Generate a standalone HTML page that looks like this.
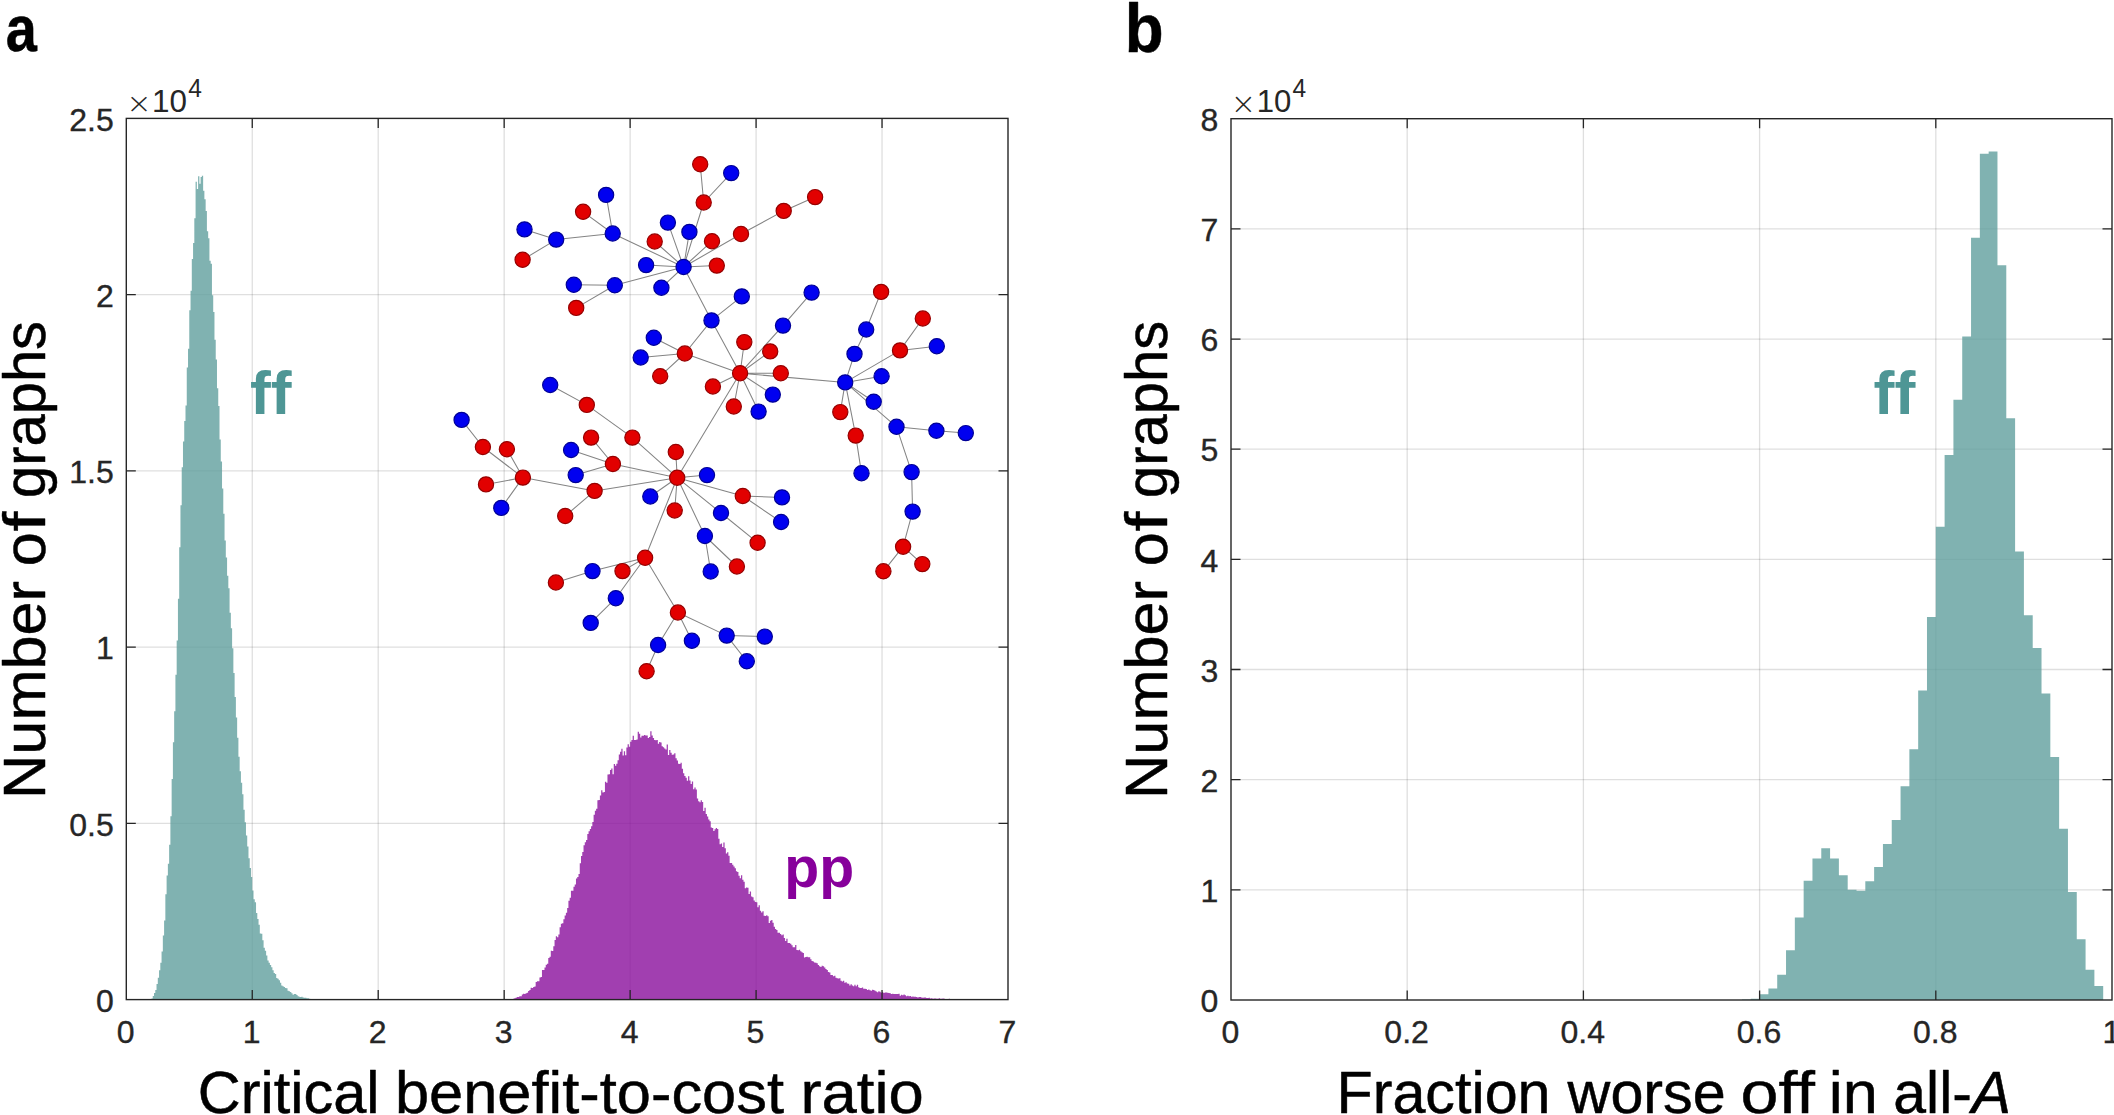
<!DOCTYPE html>
<html><head><meta charset="utf-8"><title>Figure</title>
<style>html,body{margin:0;padding:0;background:#fff;overflow:hidden}svg{display:block}</style>
</head><body>
<svg width="2114" height="1115" viewBox="0 0 2114 1115">
<rect width="2114" height="1115" fill="#fff"/>
<g stroke="#262626" stroke-opacity="0.15" stroke-width="1.3" fill="none"><path d="M252.26 118.4V999.6"/><path d="M378.21 118.4V999.6"/><path d="M504.17 118.4V999.6"/><path d="M630.13 118.4V999.6"/><path d="M756.09 118.4V999.6"/><path d="M882.04 118.4V999.6"/><path d="M126.3 823.36H1008.0"/><path d="M126.3 647.12H1008.0"/><path d="M126.3 470.88H1008.0"/><path d="M126.3 294.64H1008.0"/><path d="M1407.20 118.7V1000.0"/><path d="M1583.40 118.7V1000.0"/><path d="M1759.60 118.7V1000.0"/><path d="M1935.80 118.7V1000.0"/><path d="M1231.0 889.84H2112.0"/><path d="M1231.0 779.67H2112.0"/><path d="M1231.0 669.51H2112.0"/><path d="M1231.0 559.35H2112.0"/><path d="M1231.0 449.19H2112.0"/><path d="M1231.0 339.03H2112.0"/><path d="M1231.0 228.86H2112.0"/></g>
<path d="M148.97 999.6V999.60H150.23V999.56H151.49V998.40H152.75V996.02H154.01V993.10H155.27V989.89H156.53V983.98H157.79V977.72H159.05V970.32H160.31V962.81H161.57V951.47H162.83V935.40H164.09V920.61H165.35V894.37H166.61V875.56H167.87V863.65H169.13V844.71H170.39V816.36H171.64V778.97H172.90V742.13H174.16V711.14H175.42V674.68H176.68V640.39H177.94V598.71H179.20V547.37H180.46V505.21H181.72V467.34H182.98V441.56H184.24V420.96H185.50V405.49H186.76V367.43H188.02V348.81H189.28V310.27H190.54V290.80H191.80V258.92H193.06V242.89H194.32V218.37H195.58V181.70H196.84V188.98H198.10V176.33H199.36V183.80H200.61V176.91H201.87V175.65H203.13V190.86H204.39V199.18H205.65V210.99H206.91V231.24H208.17V238.13H209.43V260.82H210.69V263.81H211.95V295.32H213.21V311.97H214.47V339.65H215.73V359.51H216.99V388.29H218.25V406.06H219.51V439.39H220.77V461.60H222.03V488.43H223.29V513.68H224.55V540.61H225.81V557.47H227.07V575.65H228.33V588.23H229.58V612.80H230.84V628.31H232.10V648.25H233.36V672.93H234.62V697.06H235.88V717.61H237.14V737.83H238.40V756.81H239.66V771.31H240.92V782.63H242.18V794.31H243.44V809.68H244.70V822.13H245.96V835.43H247.22V846.38H248.48V858.27H249.74V867.99H251.00V877.04H252.26V890.50H253.52V899.27H254.78V902.26H256.04V912.90H257.30V918.89H258.55V924.72H259.81V933.51H261.07V933.66H262.33V940.26H263.59V947.74H264.85V950.84H266.11V955.50H267.37V960.55H268.63V962.64H269.89V965.04H271.15V967.22H272.41V970.17H273.67V973.01H274.93V973.99H276.19V978.10H277.45V978.85H278.71V980.13H279.97V982.77H281.23V985.38H282.49V986.21H283.75V986.93H285.01V987.94H286.27V988.34H287.53V990.86H288.78V991.29H290.04V991.97H291.30V993.33H292.56V994.87H293.82V994.00H295.08V993.95H296.34V995.06H297.60V996.31H298.86V996.67H300.12V997.01H301.38V996.80H302.64V997.53H303.90V997.87H305.16V997.75H306.42V998.33H307.68V998.16H308.94V998.85H310.20V999.01H311.46V998.94H312.72V998.92H313.98V999.09H315.24V999.20H316.50V999.49H317.75V999.43H319.01V999.48H320.27V999.53H321.53V999.53H322.79V999.60H324.05V999.60H325.31V999.60H326.57V999.60H327.83V999.60H329.09V999.60H330.35V999.60H331.61V999.60H332.87V999.60H334.13V999.60H335.39V999.60H336.65V999.60H337.91V999.60H339.17V999.60H340.43V999.6Z" fill="rgb(96,159,158)" fill-opacity="0.8"/>
<path d="M504.17 999.6V999.60H505.43V999.60H506.69V999.60H507.95V999.60H509.21V999.58H510.47V999.40H511.73V999.14H512.99V998.75H514.25V998.19H515.51V997.64H516.77V997.04H518.03V996.96H519.29V996.37H520.55V996.18H521.81V994.41H523.07V993.82H524.32V993.90H525.58V993.36H526.84V992.76H528.10V991.02H529.36V989.99H530.62V987.77H531.88V987.93H533.14V986.97H534.40V986.56H535.66V982.07H536.92V981.34H538.18V981.19H539.44V977.57H540.70V977.01H541.96V969.97H543.22V970.00H544.48V967.45H545.74V964.86H547.00V963.76H548.26V958.11H549.52V956.64H550.78V950.64H552.04V951.03H553.29V946.20H554.55V940.05H555.81V936.23H557.07V937.27H558.33V934.57H559.59V927.31H560.85V923.80H562.11V923.31H563.37V919.28H564.63V915.55H565.89V912.70H567.15V908.07H568.41V900.74H569.67V897.63H570.93V890.86H572.19V890.86H573.45V886.84H574.71V884.45H575.97V878.59H577.23V876.98H578.49V873.90H579.75V863.28H581.01V856.10H582.26V851.90H583.52V845.22H584.78V842.19H586.04V840.01H587.30V834.05H588.56V831.13H589.82V828.92H591.08V826.36H592.34V822.02H593.60V814.73H594.86V810.78H596.12V808.85H597.38V800.31H598.64V800.04H599.90V795.50H601.16V790.32H602.42V792.38H603.68V792.09H604.94V781.66H606.20V782.82H607.46V774.43H608.72V774.32H609.98V769.90H611.24V768.39H612.49V774.30H613.75V764.11H615.01V765.87H616.27V763.69H617.53V760.35H618.79V754.41H620.05V751.63H621.31V748.82H622.57V755.43H623.83V751.14H625.09V755.32H626.35V747.43H627.61V744.21H628.87V746.75H630.13V741.86H631.39V740.03H632.65V735.81H633.91V739.97H635.17V739.90H636.43V739.61H637.69V731.87H638.95V733.78H640.21V737.38H641.46V735.83H642.72V735.66H643.98V734.88H645.24V735.62H646.50V735.49H647.76V737.92H649.02V737.09H650.28V731.16H651.54V735.61H652.80V738.10H654.06V740.00H655.32V740.16H656.58V740.02H657.84V743.77H659.10V741.98H660.36V742.59H661.62V746.30H662.88V747.18H664.14V748.57H665.40V749.53H666.66V744.48H667.92V754.92H669.18V749.99H670.43V752.87H671.69V754.75H672.95V754.51H674.21V753.34H675.47V758.19H676.73V760.58H677.99V763.71H679.25V764.08H680.51V762.86H681.77V768.84H683.03V773.27H684.29V775.89H685.55V777.73H686.81V780.81H688.07V776.16H689.33V780.42H690.59V784.08H691.85V781.45H693.11V789.29H694.37V787.47H695.63V789.47H696.89V798.54H698.15V801.28H699.40V802.32H700.66V800.22H701.92V801.96H703.18V811.12H704.44V807.74H705.70V813.95H706.96V816.49H708.22V819.40H709.48V821.34H710.74V827.57H712.00V828.01H713.26V831.07H714.52V829.34H715.78V827.98H717.04V828.95H718.30V838.65H719.56V844.25H720.82V843.46H722.08V847.03H723.34V842.57H724.60V848.18H725.86V853.60H727.12V852.29H728.38V855.68H729.63V862.96H730.89V863.00H732.15V864.82H733.41V866.55H734.67V868.27H735.93V871.23H737.19V872.07H738.45V875.66H739.71V878.25H740.97V875.21H742.23V879.79H743.49V881.85H744.75V888.14H746.01V887.47H747.27V887.73H748.53V894.07H749.79V891.60H751.05V896.61H752.31V897.25H753.57V900.41H754.83V901.90H756.09V902.25H757.35V907.23H758.60V905.16H759.86V910.83H761.12V912.55H762.38V911.13H763.64V915.69H764.90V915.95H766.16V915.23H767.42V916.26H768.68V922.89H769.94V920.69H771.20V920.05H772.46V922.81H773.72V926.74H774.98V928.92H776.24V930.04H777.50V932.77H778.76V932.71H780.02V933.91H781.28V935.17H782.54V934.51H783.80V937.94H785.06V941.05H786.32V938.72H787.57V942.88H788.83V943.08H790.09V943.74H791.35V945.13H792.61V947.14H793.87V947.20H795.13V945.02H796.39V949.88H797.65V950.35H798.91V949.81H800.17V951.29H801.43V952.22H802.69V953.06H803.95V957.56H805.21V957.11H806.47V956.83H807.73V957.33H808.99V957.33H810.25V959.27H811.51V961.05H812.77V961.57H814.03V962.62H815.29V962.86H816.55V963.14H817.80V965.03H819.06V966.30H820.32V967.09H821.58V965.75H822.84V966.32H824.10V967.62H825.36V968.92H826.62V970.09H827.88V972.06H829.14V972.38H830.40V974.88H831.66V974.92H832.92V976.26H834.18V975.78H835.44V977.80H836.70V978.24H837.96V978.54H839.22V978.34H840.48V980.74H841.74V981.45H843.00V980.63H844.26V982.76H845.52V982.14H846.77V983.51H848.03V983.68H849.29V985.48H850.55V984.15H851.81V985.55H853.07V986.36H854.33V984.84H855.59V986.28H856.85V984.75H858.11V987.14H859.37V987.96H860.63V987.99H861.89V987.38H863.15V988.73H864.41V988.75H865.67V988.92H866.93V989.99H868.19V989.58H869.45V990.16H870.71V990.79H871.97V989.78H873.23V990.12H874.49V990.67H875.75V991.44H877.00V992.26H878.26V991.13H879.52V991.66H880.78V992.72H882.04V992.09H883.30V993.03H884.56V992.47H885.82V992.58H887.08V992.68H888.34V992.94H889.60V993.16H890.86V993.97H892.12V993.80H893.38V994.04H894.64V994.09H895.90V994.05H897.16V994.08H898.42V993.84H899.68V995.78H900.94V994.74H902.20V995.18H903.46V994.41H904.72V995.14H905.97V996.30H907.23V995.74H908.49V996.26H909.75V995.91H911.01V996.73H912.27V996.53H913.53V996.67H914.79V996.78H916.05V997.06H917.31V997.56H918.57V996.99H919.83V996.97H921.09V997.40H922.35V997.78H923.61V997.58H924.87V997.62H926.13V997.93H927.39V998.01H928.65V997.75H929.91V998.40H931.17V998.34H932.43V998.70H933.69V998.51H934.94V998.58H936.20V998.69H937.46V998.69H938.72V998.28H939.98V998.70H941.24V998.75H942.50V998.41H943.76V998.85H945.02V999.17H946.28V998.89H947.54V999.14H948.80V998.84H950.06V999.28H951.32V999.24H952.58V999.41H953.84V999.27H955.10V999.43H956.36V999.37H957.62V999.43H958.88V999.48H960.14V999.40H961.40V999.45H962.66V999.53H963.91V999.60H965.17V999.60H966.43V999.60H967.69V999.60H968.95V999.60H970.21V999.60H971.47V999.60H972.73V999.60H973.99V999.60H975.25V999.60H976.51V999.60H977.77V999.60H979.03V999.60H980.29V999.60H981.55V999.60H982.81V999.60H984.07V999.60H985.33V999.60H986.59V999.60H987.85V999.60H989.11V999.60H990.37V999.60H991.63V999.60H992.89V999.60H994.14V999.60H995.40V999.60H996.66V999.60H997.92V999.60H999.18V999.60H1000.44V999.6Z" fill="rgb(138,15,156)" fill-opacity="0.8"/>
<path d="M1741.98 1000.0L1741.98 999.56L1750.79 999.56L1750.79 998.68L1759.60 998.68L1759.60 994.16L1768.41 994.16L1768.41 988.43L1777.22 988.43L1777.22 974.77L1786.03 974.77L1786.03 950.32L1794.84 950.32L1794.84 917.49L1803.65 917.49L1803.65 880.80L1812.46 880.80L1812.46 858.55L1821.27 858.55L1821.27 848.20L1830.08 848.20L1830.08 858.55L1838.89 858.55L1838.89 875.19L1847.70 875.19L1847.70 889.73L1856.51 889.73L1856.51 890.83L1865.32 890.83L1865.32 881.35L1874.13 881.35L1874.13 866.92L1882.94 866.92L1882.94 844.01L1891.75 844.01L1891.75 820.10L1900.56 820.10L1900.56 786.17L1909.37 786.17L1909.37 749.16L1918.18 749.16L1918.18 690.55L1926.99 690.55L1926.99 616.96L1935.80 616.96L1935.80 526.74L1944.61 526.74L1944.61 455.03L1953.42 455.03L1953.42 399.83L1962.23 399.83L1962.23 336.60L1971.04 336.60L1971.04 237.68L1979.85 237.68L1979.85 153.73L1988.66 153.73L1988.66 151.53L1997.47 151.53L1997.47 265.33L2006.28 265.33L2006.28 418.23L2015.09 418.23L2015.09 551.53L2023.90 551.53L2023.90 615.31L2032.71 615.31L2032.71 648.03L2041.52 648.03L2041.52 693.42L2050.33 693.42L2050.33 756.98L2059.14 756.98L2059.14 828.81L2067.95 828.81L2067.95 891.93L2076.76 891.93L2076.76 939.19L2085.57 939.19L2085.57 969.71L2094.38 969.71L2094.38 985.90L2103.19 985.90L2103.19 1000.0Z" fill="rgb(96,159,158)" fill-opacity="0.8"/>
<path d="M700.2 164.2L703.7 202.5M731.2 173.1L703.7 202.5M703.7 202.5L683.6 267.0M689.4 231.9L683.6 267.0M667.9 222.6L683.6 267.0M654.7 241.5L683.6 267.0M712.0 241.2L683.6 267.0M741.0 234.0L683.6 267.0M741.0 234.0L783.7 210.9M783.7 210.9L815.1 197.1M646.1 265.1L683.6 267.0M716.8 265.6L683.6 267.0M612.7 233.5L683.6 267.0M612.7 233.5L606.1 194.9M612.7 233.5L583.1 211.8M612.7 233.5L556.2 239.6M556.2 239.6L524.5 229.4M556.2 239.6L522.6 259.8M614.8 285.3L683.6 267.0M614.8 285.3L573.8 284.8M614.8 285.3L576.2 307.9M661.4 287.7L683.6 267.0M683.6 267.0L711.5 320.4M711.5 320.4L741.8 296.4M783.0 325.6L811.6 292.6M711.5 320.4L684.8 353.5M711.5 320.4L740.1 373.2M684.8 353.5L653.8 337.8M684.8 353.5L640.7 357.5M684.8 353.5L660.2 376.2M684.8 353.5L740.1 373.2M740.1 373.2L744.3 342.1M740.1 373.2L770.2 351.4M740.1 373.2L783.0 325.6M740.1 373.2L780.8 373.2M740.1 373.2L845.2 382.4M740.1 373.2L712.9 386.5M740.1 373.2L733.8 406.5M740.1 373.2L758.6 411.6M740.1 373.2L772.8 394.6M740.1 373.2L677.2 477.7M845.2 382.4L854.5 353.9M854.5 353.9L866.2 329.5M866.2 329.5L881.1 291.9M845.2 382.4L900.0 350.4M900.0 350.4L922.8 318.5M900.0 350.4L936.8 346.2M845.2 382.4L881.6 376.3M845.2 382.4L873.7 401.7M845.2 382.4L896.5 426.8M845.2 382.4L840.3 412.1M845.2 382.4L855.7 435.6M896.5 426.8L936.4 430.7M936.4 430.7L965.8 433.1M896.5 426.8L911.6 472.1M855.7 435.6L861.5 473.2M911.6 472.1L912.6 511.6M912.6 511.6L903.1 546.7M903.1 546.7L922.3 564.1M903.1 546.7L883.4 571.3M550.2 385.0L586.8 404.9M586.8 404.9L632.4 437.6M632.4 437.6L677.2 477.7M461.6 419.9L482.9 447.0M482.9 447.0L522.9 477.6M506.9 449.2L522.9 477.6M522.9 477.6L486.0 484.4M522.9 477.6L501.3 507.9M522.9 477.6L594.6 490.9M594.6 490.9L677.2 477.7M594.6 490.9L565.2 516.0M591.1 437.6L612.9 464.0M571.1 450.0L612.9 464.0M575.7 475.1L612.9 464.0M612.9 464.0L677.2 477.7M675.8 452.0L677.2 477.7M707.0 475.1L677.2 477.7M650.3 496.5L677.2 477.7M674.7 510.5L677.2 477.7M677.2 477.7L645.1 557.8M677.2 477.7L704.9 536.0M677.2 477.7L721.0 513.0M677.2 477.7L742.8 496.0M742.8 496.0L782.0 497.4M742.8 496.0L781.1 522.0M721.0 513.0L757.6 542.7M645.1 557.8L592.5 571.1M645.1 557.8L622.5 571.1M592.5 571.1L555.9 582.5M645.1 557.8L615.8 598.2M615.8 598.2L590.7 622.9M645.1 557.8L677.9 612.5M677.9 612.5L658.1 645.0M658.1 645.0L646.6 671.2M677.9 612.5L691.9 640.8M677.9 612.5L726.7 635.6M726.7 635.6L764.8 636.6M726.7 635.6L746.8 661.3M704.9 536.0L710.7 571.5M704.9 536.0L736.9 566.5" stroke="rgb(132,132,132)" stroke-width="1.05" fill="none"/>
<circle cx="700.2" cy="164.2" r="7.6" fill="rgb(226,0,0)" stroke="rgb(150,0,0)" stroke-width="1.2"/>
<circle cx="731.2" cy="173.1" r="7.6" fill="rgb(0,0,240)" stroke="rgb(0,0,150)" stroke-width="1.2"/>
<circle cx="703.7" cy="202.5" r="7.6" fill="rgb(226,0,0)" stroke="rgb(150,0,0)" stroke-width="1.2"/>
<circle cx="815.1" cy="197.1" r="7.6" fill="rgb(226,0,0)" stroke="rgb(150,0,0)" stroke-width="1.2"/>
<circle cx="783.7" cy="210.9" r="7.6" fill="rgb(226,0,0)" stroke="rgb(150,0,0)" stroke-width="1.2"/>
<circle cx="606.1" cy="194.9" r="7.6" fill="rgb(0,0,240)" stroke="rgb(0,0,150)" stroke-width="1.2"/>
<circle cx="583.1" cy="211.8" r="7.6" fill="rgb(226,0,0)" stroke="rgb(150,0,0)" stroke-width="1.2"/>
<circle cx="612.7" cy="233.5" r="7.6" fill="rgb(0,0,240)" stroke="rgb(0,0,150)" stroke-width="1.2"/>
<circle cx="524.5" cy="229.4" r="7.6" fill="rgb(0,0,240)" stroke="rgb(0,0,150)" stroke-width="1.2"/>
<circle cx="556.2" cy="239.6" r="7.6" fill="rgb(0,0,240)" stroke="rgb(0,0,150)" stroke-width="1.2"/>
<circle cx="522.6" cy="259.8" r="7.6" fill="rgb(226,0,0)" stroke="rgb(150,0,0)" stroke-width="1.2"/>
<circle cx="667.9" cy="222.6" r="7.6" fill="rgb(0,0,240)" stroke="rgb(0,0,150)" stroke-width="1.2"/>
<circle cx="689.4" cy="231.9" r="7.6" fill="rgb(0,0,240)" stroke="rgb(0,0,150)" stroke-width="1.2"/>
<circle cx="654.7" cy="241.5" r="7.6" fill="rgb(226,0,0)" stroke="rgb(150,0,0)" stroke-width="1.2"/>
<circle cx="712.0" cy="241.2" r="7.6" fill="rgb(226,0,0)" stroke="rgb(150,0,0)" stroke-width="1.2"/>
<circle cx="741.0" cy="234.0" r="7.6" fill="rgb(226,0,0)" stroke="rgb(150,0,0)" stroke-width="1.2"/>
<circle cx="646.1" cy="265.1" r="7.6" fill="rgb(0,0,240)" stroke="rgb(0,0,150)" stroke-width="1.2"/>
<circle cx="683.6" cy="267.0" r="7.6" fill="rgb(0,0,240)" stroke="rgb(0,0,150)" stroke-width="1.2"/>
<circle cx="716.8" cy="265.6" r="7.6" fill="rgb(226,0,0)" stroke="rgb(150,0,0)" stroke-width="1.2"/>
<circle cx="573.8" cy="284.8" r="7.6" fill="rgb(0,0,240)" stroke="rgb(0,0,150)" stroke-width="1.2"/>
<circle cx="614.8" cy="285.3" r="7.6" fill="rgb(0,0,240)" stroke="rgb(0,0,150)" stroke-width="1.2"/>
<circle cx="661.4" cy="287.7" r="7.6" fill="rgb(0,0,240)" stroke="rgb(0,0,150)" stroke-width="1.2"/>
<circle cx="576.2" cy="307.9" r="7.6" fill="rgb(226,0,0)" stroke="rgb(150,0,0)" stroke-width="1.2"/>
<circle cx="741.8" cy="296.4" r="7.6" fill="rgb(0,0,240)" stroke="rgb(0,0,150)" stroke-width="1.2"/>
<circle cx="811.6" cy="292.6" r="7.6" fill="rgb(0,0,240)" stroke="rgb(0,0,150)" stroke-width="1.2"/>
<circle cx="711.5" cy="320.4" r="7.6" fill="rgb(0,0,240)" stroke="rgb(0,0,150)" stroke-width="1.2"/>
<circle cx="783.0" cy="325.6" r="7.6" fill="rgb(0,0,240)" stroke="rgb(0,0,150)" stroke-width="1.2"/>
<circle cx="881.1" cy="291.9" r="7.6" fill="rgb(226,0,0)" stroke="rgb(150,0,0)" stroke-width="1.2"/>
<circle cx="922.8" cy="318.5" r="7.6" fill="rgb(226,0,0)" stroke="rgb(150,0,0)" stroke-width="1.2"/>
<circle cx="866.2" cy="329.5" r="7.6" fill="rgb(0,0,240)" stroke="rgb(0,0,150)" stroke-width="1.2"/>
<circle cx="653.8" cy="337.8" r="7.6" fill="rgb(0,0,240)" stroke="rgb(0,0,150)" stroke-width="1.2"/>
<circle cx="744.3" cy="342.1" r="7.6" fill="rgb(226,0,0)" stroke="rgb(150,0,0)" stroke-width="1.2"/>
<circle cx="770.2" cy="351.4" r="7.6" fill="rgb(226,0,0)" stroke="rgb(150,0,0)" stroke-width="1.2"/>
<circle cx="684.8" cy="353.5" r="7.6" fill="rgb(226,0,0)" stroke="rgb(150,0,0)" stroke-width="1.2"/>
<circle cx="900.0" cy="350.4" r="7.6" fill="rgb(226,0,0)" stroke="rgb(150,0,0)" stroke-width="1.2"/>
<circle cx="936.8" cy="346.2" r="7.6" fill="rgb(0,0,240)" stroke="rgb(0,0,150)" stroke-width="1.2"/>
<circle cx="640.7" cy="357.5" r="7.6" fill="rgb(0,0,240)" stroke="rgb(0,0,150)" stroke-width="1.2"/>
<circle cx="854.5" cy="353.9" r="7.6" fill="rgb(0,0,240)" stroke="rgb(0,0,150)" stroke-width="1.2"/>
<circle cx="660.2" cy="376.2" r="7.6" fill="rgb(226,0,0)" stroke="rgb(150,0,0)" stroke-width="1.2"/>
<circle cx="740.1" cy="373.2" r="7.6" fill="rgb(226,0,0)" stroke="rgb(150,0,0)" stroke-width="1.2"/>
<circle cx="780.8" cy="373.2" r="7.6" fill="rgb(226,0,0)" stroke="rgb(150,0,0)" stroke-width="1.2"/>
<circle cx="845.2" cy="382.4" r="7.6" fill="rgb(0,0,240)" stroke="rgb(0,0,150)" stroke-width="1.2"/>
<circle cx="881.6" cy="376.3" r="7.6" fill="rgb(0,0,240)" stroke="rgb(0,0,150)" stroke-width="1.2"/>
<circle cx="712.9" cy="386.5" r="7.6" fill="rgb(226,0,0)" stroke="rgb(150,0,0)" stroke-width="1.2"/>
<circle cx="772.8" cy="394.6" r="7.6" fill="rgb(0,0,240)" stroke="rgb(0,0,150)" stroke-width="1.2"/>
<circle cx="873.7" cy="401.7" r="7.6" fill="rgb(0,0,240)" stroke="rgb(0,0,150)" stroke-width="1.2"/>
<circle cx="733.8" cy="406.5" r="7.6" fill="rgb(226,0,0)" stroke="rgb(150,0,0)" stroke-width="1.2"/>
<circle cx="758.6" cy="411.6" r="7.6" fill="rgb(0,0,240)" stroke="rgb(0,0,150)" stroke-width="1.2"/>
<circle cx="840.3" cy="412.1" r="7.6" fill="rgb(226,0,0)" stroke="rgb(150,0,0)" stroke-width="1.2"/>
<circle cx="896.5" cy="426.8" r="7.6" fill="rgb(0,0,240)" stroke="rgb(0,0,150)" stroke-width="1.2"/>
<circle cx="936.4" cy="430.7" r="7.6" fill="rgb(0,0,240)" stroke="rgb(0,0,150)" stroke-width="1.2"/>
<circle cx="965.8" cy="433.1" r="7.6" fill="rgb(0,0,240)" stroke="rgb(0,0,150)" stroke-width="1.2"/>
<circle cx="855.7" cy="435.6" r="7.6" fill="rgb(226,0,0)" stroke="rgb(150,0,0)" stroke-width="1.2"/>
<circle cx="632.4" cy="437.6" r="7.6" fill="rgb(226,0,0)" stroke="rgb(150,0,0)" stroke-width="1.2"/>
<circle cx="675.8" cy="452.0" r="7.6" fill="rgb(226,0,0)" stroke="rgb(150,0,0)" stroke-width="1.2"/>
<circle cx="550.2" cy="385.0" r="7.6" fill="rgb(0,0,240)" stroke="rgb(0,0,150)" stroke-width="1.2"/>
<circle cx="586.8" cy="404.9" r="7.6" fill="rgb(226,0,0)" stroke="rgb(150,0,0)" stroke-width="1.2"/>
<circle cx="461.6" cy="419.9" r="7.6" fill="rgb(0,0,240)" stroke="rgb(0,0,150)" stroke-width="1.2"/>
<circle cx="591.1" cy="437.6" r="7.6" fill="rgb(226,0,0)" stroke="rgb(150,0,0)" stroke-width="1.2"/>
<circle cx="482.9" cy="447.0" r="7.6" fill="rgb(226,0,0)" stroke="rgb(150,0,0)" stroke-width="1.2"/>
<circle cx="506.9" cy="449.2" r="7.6" fill="rgb(226,0,0)" stroke="rgb(150,0,0)" stroke-width="1.2"/>
<circle cx="571.1" cy="450.0" r="7.6" fill="rgb(0,0,240)" stroke="rgb(0,0,150)" stroke-width="1.2"/>
<circle cx="612.9" cy="464.0" r="7.6" fill="rgb(226,0,0)" stroke="rgb(150,0,0)" stroke-width="1.2"/>
<circle cx="522.9" cy="477.6" r="7.6" fill="rgb(226,0,0)" stroke="rgb(150,0,0)" stroke-width="1.2"/>
<circle cx="575.7" cy="475.1" r="7.6" fill="rgb(0,0,240)" stroke="rgb(0,0,150)" stroke-width="1.2"/>
<circle cx="677.2" cy="477.7" r="7.6" fill="rgb(226,0,0)" stroke="rgb(150,0,0)" stroke-width="1.2"/>
<circle cx="707.0" cy="475.1" r="7.6" fill="rgb(0,0,240)" stroke="rgb(0,0,150)" stroke-width="1.2"/>
<circle cx="486.0" cy="484.4" r="7.6" fill="rgb(226,0,0)" stroke="rgb(150,0,0)" stroke-width="1.2"/>
<circle cx="594.6" cy="490.9" r="7.6" fill="rgb(226,0,0)" stroke="rgb(150,0,0)" stroke-width="1.2"/>
<circle cx="650.3" cy="496.5" r="7.6" fill="rgb(0,0,240)" stroke="rgb(0,0,150)" stroke-width="1.2"/>
<circle cx="742.8" cy="496.0" r="7.6" fill="rgb(226,0,0)" stroke="rgb(150,0,0)" stroke-width="1.2"/>
<circle cx="782.0" cy="497.4" r="7.6" fill="rgb(0,0,240)" stroke="rgb(0,0,150)" stroke-width="1.2"/>
<circle cx="501.3" cy="507.9" r="7.6" fill="rgb(0,0,240)" stroke="rgb(0,0,150)" stroke-width="1.2"/>
<circle cx="674.7" cy="510.5" r="7.6" fill="rgb(226,0,0)" stroke="rgb(150,0,0)" stroke-width="1.2"/>
<circle cx="721.0" cy="513.0" r="7.6" fill="rgb(0,0,240)" stroke="rgb(0,0,150)" stroke-width="1.2"/>
<circle cx="565.2" cy="516.0" r="7.6" fill="rgb(226,0,0)" stroke="rgb(150,0,0)" stroke-width="1.2"/>
<circle cx="781.1" cy="522.0" r="7.6" fill="rgb(0,0,240)" stroke="rgb(0,0,150)" stroke-width="1.2"/>
<circle cx="704.9" cy="536.0" r="7.6" fill="rgb(0,0,240)" stroke="rgb(0,0,150)" stroke-width="1.2"/>
<circle cx="757.6" cy="542.7" r="7.6" fill="rgb(226,0,0)" stroke="rgb(150,0,0)" stroke-width="1.2"/>
<circle cx="645.1" cy="557.8" r="7.6" fill="rgb(226,0,0)" stroke="rgb(150,0,0)" stroke-width="1.2"/>
<circle cx="861.5" cy="473.2" r="7.6" fill="rgb(0,0,240)" stroke="rgb(0,0,150)" stroke-width="1.2"/>
<circle cx="911.6" cy="472.1" r="7.6" fill="rgb(0,0,240)" stroke="rgb(0,0,150)" stroke-width="1.2"/>
<circle cx="912.6" cy="511.6" r="7.6" fill="rgb(0,0,240)" stroke="rgb(0,0,150)" stroke-width="1.2"/>
<circle cx="903.1" cy="546.7" r="7.6" fill="rgb(226,0,0)" stroke="rgb(150,0,0)" stroke-width="1.2"/>
<circle cx="922.3" cy="564.1" r="7.6" fill="rgb(226,0,0)" stroke="rgb(150,0,0)" stroke-width="1.2"/>
<circle cx="883.4" cy="571.3" r="7.6" fill="rgb(226,0,0)" stroke="rgb(150,0,0)" stroke-width="1.2"/>
<circle cx="592.5" cy="571.1" r="7.6" fill="rgb(0,0,240)" stroke="rgb(0,0,150)" stroke-width="1.2"/>
<circle cx="622.5" cy="571.1" r="7.6" fill="rgb(226,0,0)" stroke="rgb(150,0,0)" stroke-width="1.2"/>
<circle cx="710.7" cy="571.5" r="7.6" fill="rgb(0,0,240)" stroke="rgb(0,0,150)" stroke-width="1.2"/>
<circle cx="736.9" cy="566.5" r="7.6" fill="rgb(226,0,0)" stroke="rgb(150,0,0)" stroke-width="1.2"/>
<circle cx="555.9" cy="582.5" r="7.6" fill="rgb(226,0,0)" stroke="rgb(150,0,0)" stroke-width="1.2"/>
<circle cx="615.8" cy="598.2" r="7.6" fill="rgb(0,0,240)" stroke="rgb(0,0,150)" stroke-width="1.2"/>
<circle cx="590.7" cy="622.9" r="7.6" fill="rgb(0,0,240)" stroke="rgb(0,0,150)" stroke-width="1.2"/>
<circle cx="677.9" cy="612.5" r="7.6" fill="rgb(226,0,0)" stroke="rgb(150,0,0)" stroke-width="1.2"/>
<circle cx="726.7" cy="635.6" r="7.6" fill="rgb(0,0,240)" stroke="rgb(0,0,150)" stroke-width="1.2"/>
<circle cx="764.8" cy="636.6" r="7.6" fill="rgb(0,0,240)" stroke="rgb(0,0,150)" stroke-width="1.2"/>
<circle cx="691.9" cy="640.8" r="7.6" fill="rgb(0,0,240)" stroke="rgb(0,0,150)" stroke-width="1.2"/>
<circle cx="658.1" cy="645.0" r="7.6" fill="rgb(0,0,240)" stroke="rgb(0,0,150)" stroke-width="1.2"/>
<circle cx="746.8" cy="661.3" r="7.6" fill="rgb(0,0,240)" stroke="rgb(0,0,150)" stroke-width="1.2"/>
<circle cx="646.6" cy="671.2" r="7.6" fill="rgb(226,0,0)" stroke="rgb(150,0,0)" stroke-width="1.2"/>
<path d="M252.26 999.6v-9.5M252.26 118.4v9.5M378.21 999.6v-9.5M378.21 118.4v9.5M504.17 999.6v-9.5M504.17 118.4v9.5M630.13 999.6v-9.5M630.13 118.4v9.5M756.09 999.6v-9.5M756.09 118.4v9.5M882.04 999.6v-9.5M882.04 118.4v9.5M126.3 823.36h9.5M1008.0 823.36h-9.5M126.3 647.12h9.5M1008.0 647.12h-9.5M126.3 470.88h9.5M1008.0 470.88h-9.5M126.3 294.64h9.5M1008.0 294.64h-9.5" stroke="#262626" stroke-width="1.3" fill="none"/>
<rect x="126.3" y="118.4" width="881.70" height="881.20" stroke="#262626" stroke-width="1.4" fill="none"/>
<path d="M1407.20 1000.0v-9.5M1407.20 118.7v9.5M1583.40 1000.0v-9.5M1583.40 118.7v9.5M1759.60 1000.0v-9.5M1759.60 118.7v9.5M1935.80 1000.0v-9.5M1935.80 118.7v9.5M1231.0 889.84h9.5M2112.0 889.84h-9.5M1231.0 779.67h9.5M2112.0 779.67h-9.5M1231.0 669.51h9.5M2112.0 669.51h-9.5M1231.0 559.35h9.5M2112.0 559.35h-9.5M1231.0 449.19h9.5M2112.0 449.19h-9.5M1231.0 339.03h9.5M2112.0 339.03h-9.5M1231.0 228.86h9.5M2112.0 228.86h-9.5" stroke="#262626" stroke-width="1.3" fill="none"/>
<rect x="1231.0" y="118.7" width="881.00" height="881.30" stroke="#262626" stroke-width="1.4" fill="none"/>
<g font-family="'Liberation Sans', Arial, sans-serif" font-size="32.0" fill="#262626" stroke="#262626" stroke-width="0.35"><text x="125.70" y="1042.60" text-anchor="middle">0</text><text x="251.66" y="1042.60" text-anchor="middle">1</text><text x="377.61" y="1042.60" text-anchor="middle">2</text><text x="503.57" y="1042.60" text-anchor="middle">3</text><text x="629.53" y="1042.60" text-anchor="middle">4</text><text x="755.49" y="1042.60" text-anchor="middle">5</text><text x="881.44" y="1042.60" text-anchor="middle">6</text><text x="1007.40" y="1042.60" text-anchor="middle">7</text><text x="113.70" y="1011.80" text-anchor="end">0</text><text x="113.70" y="835.56" text-anchor="end">0.5</text><text x="113.70" y="659.32" text-anchor="end">1</text><text x="113.70" y="483.08" text-anchor="end">1.5</text><text x="113.70" y="306.84" text-anchor="end">2</text><text x="113.70" y="130.60" text-anchor="end">2.5</text><text x="1230.40" y="1042.60" text-anchor="middle">0</text><text x="1406.60" y="1042.60" text-anchor="middle">0.2</text><text x="1582.80" y="1042.60" text-anchor="middle">0.4</text><text x="1759.00" y="1042.60" text-anchor="middle">0.6</text><text x="1935.20" y="1042.60" text-anchor="middle">0.8</text><text x="2111.40" y="1042.60" text-anchor="middle">1</text><text x="1218.40" y="1012.20" text-anchor="end">0</text><text x="1218.40" y="902.04" text-anchor="end">1</text><text x="1218.40" y="791.88" text-anchor="end">2</text><text x="1218.40" y="681.71" text-anchor="end">3</text><text x="1218.40" y="571.55" text-anchor="end">4</text><text x="1218.40" y="461.39" text-anchor="end">5</text><text x="1218.40" y="351.23" text-anchor="end">6</text><text x="1218.40" y="241.06" text-anchor="end">7</text><text x="1218.40" y="130.90" text-anchor="end">8</text></g>
<text transform="matrix(0.5585 0.0000 0.0000 0.6455 5.7745 51.4045)" font-family="'Liberation Sans', Arial, sans-serif" font-weight="bold" font-size="100" fill="#000" stroke="#000" stroke-width="0.833" stroke-linejoin="round">a</text>
<text transform="matrix(0.6360 0.0000 0.0000 0.6808 1124.6980 51.8500)" font-family="'Liberation Sans', Arial, sans-serif" font-weight="bold" font-size="100" fill="#000" stroke="#000" stroke-width="0.760" stroke-linejoin="round">b</text>
<text transform="matrix(0.5949 0.0000 0.0000 0.5971 197.8255 1112.6000)" font-family="'Liberation Sans', Arial, sans-serif" font-weight="normal" font-size="100" fill="#000" stroke="#000" stroke-width="0.839" stroke-linejoin="round">Critical</text>
<text transform="matrix(0.6142 0.0000 0.0000 0.5971 394.9005 1112.6000)" font-family="'Liberation Sans', Arial, sans-serif" font-weight="normal" font-size="100" fill="#000" stroke="#000" stroke-width="0.826" stroke-linejoin="round">benefit-to-cost</text>
<text transform="matrix(0.6339 0.0000 0.0000 0.5971 800.4628 1112.6000)" font-family="'Liberation Sans', Arial, sans-serif" font-weight="normal" font-size="100" fill="#000" stroke="#000" stroke-width="0.813" stroke-linejoin="round">ratio</text>
<text transform="matrix(0.5928 0.0000 0.0000 0.5971 1336.4576 1112.7000)" font-family="'Liberation Sans', Arial, sans-serif" font-weight="normal" font-size="100" fill="#000" stroke="#000" stroke-width="0.840" stroke-linejoin="round">Fraction</text>
<text transform="matrix(0.5927 0.0000 0.0000 0.5971 1567.6000 1112.7000)" font-family="'Liberation Sans', Arial, sans-serif" font-weight="normal" font-size="100" fill="#000" stroke="#000" stroke-width="0.840" stroke-linejoin="round">worse</text>
<text transform="matrix(0.6819 0.0000 0.0000 0.5971 1740.4724 1112.7000)" font-family="'Liberation Sans', Arial, sans-serif" font-weight="normal" font-size="100" fill="#000" stroke="#000" stroke-width="0.784" stroke-linejoin="round">off</text>
<text transform="matrix(0.6313 0.0000 0.0000 0.5971 1828.6812 1112.7000)" font-family="'Liberation Sans', Arial, sans-serif" font-weight="normal" font-size="100" fill="#000" stroke="#000" stroke-width="0.814" stroke-linejoin="round">in</text>
<text transform="matrix(0.5889 0.0000 0.0000 0.5971 1893.3442 1112.7000)" font-family="'Liberation Sans', Arial, sans-serif" font-weight="normal" font-size="100" fill="#000" stroke="#000" stroke-width="0.843" stroke-linejoin="round">all-<tspan font-style="italic">A</tspan></text>
<text transform="matrix(0.0000 -0.6127 0.6000 0.0000 45.2000 798.9017)" font-family="'Liberation Sans', Arial, sans-serif" font-weight="normal" font-size="100" fill="#000" stroke="#000" stroke-width="0.825" stroke-linejoin="round">Number</text>
<text transform="matrix(0.0000 -0.6128 0.6000 0.0000 45.2000 566.3511)" font-family="'Liberation Sans', Arial, sans-serif" font-weight="normal" font-size="100" fill="#000" stroke="#000" stroke-width="0.825" stroke-linejoin="round">o</text>
<text transform="matrix(0.0000 -0.7185 0.6000 0.0000 45.2000 531.4185)" font-family="'Liberation Sans', Arial, sans-serif" font-weight="normal" font-size="100" fill="#000" stroke="#000" stroke-width="0.762" stroke-linejoin="round">f</text>
<text transform="matrix(0.0000 -0.5789 0.6000 0.0000 45.2000 497.9154)" font-family="'Liberation Sans', Arial, sans-serif" font-weight="normal" font-size="100" fill="#000" stroke="#000" stroke-width="0.848" stroke-linejoin="round">graphs</text>
<text transform="matrix(0.0000 -0.6127 0.5986 0.0000 1166.5000 798.9017)" font-family="'Liberation Sans', Arial, sans-serif" font-weight="normal" font-size="100" fill="#000" stroke="#000" stroke-width="0.826" stroke-linejoin="round">Number</text>
<text transform="matrix(0.0000 -0.6128 0.5986 0.0000 1166.5000 566.3511)" font-family="'Liberation Sans', Arial, sans-serif" font-weight="normal" font-size="100" fill="#000" stroke="#000" stroke-width="0.826" stroke-linejoin="round">o</text>
<text transform="matrix(0.0000 -0.7185 0.5986 0.0000 1166.5000 531.4185)" font-family="'Liberation Sans', Arial, sans-serif" font-weight="normal" font-size="100" fill="#000" stroke="#000" stroke-width="0.762" stroke-linejoin="round">f</text>
<text transform="matrix(0.0000 -0.5795 0.5986 0.0000 1166.5000 497.9181)" font-family="'Liberation Sans', Arial, sans-serif" font-weight="normal" font-size="100" fill="#000" stroke="#000" stroke-width="0.849" stroke-linejoin="round">graphs</text>
<text transform="matrix(0.6246 0.0000 0.0000 0.6110 250.0508 413.5000)" font-family="'Liberation Sans', Arial, sans-serif" font-weight="bold" font-size="100" fill="rgb(78,150,149)">ff</text>
<text transform="matrix(0.6277 0.0000 0.0000 0.6151 1873.5446 413.7000)" font-family="'Liberation Sans', Arial, sans-serif" font-weight="bold" font-size="100" fill="rgb(78,150,149)">ff</text>
<text transform="matrix(0.5721 0.0000 0.0000 0.5680 784.1955 886.6720)" font-family="'Liberation Sans', Arial, sans-serif" font-weight="bold" font-size="100" fill="rgb(135,0,155)">pp</text>
<text transform="matrix(0.3039 0.0000 0.0000 0.2882 126.3373 113.3294)" font-family="'DejaVu Sans', 'Liberation Sans', sans-serif" font-weight="200" font-size="100" fill="#262626">×</text>
<text transform="matrix(0.3141 0.0000 0.0000 0.3155 152.0869 112.4845)" font-family="'Liberation Sans', Arial, sans-serif" font-weight="normal" font-size="100" fill="#262626">10</text>
<text transform="matrix(0.2451 0.0000 0.0000 0.2515 188.2098 97.1515)" font-family="'Liberation Sans', Arial, sans-serif" font-weight="normal" font-size="100" fill="#262626">4</text>
<text transform="matrix(0.3020 0.0000 0.0000 0.2941 1230.7686 113.6647)" font-family="'DejaVu Sans', 'Liberation Sans', sans-serif" font-weight="200" font-size="100" fill="#262626">×</text>
<text transform="matrix(0.3111 0.0000 0.0000 0.3070 1256.8111 112.2930)" font-family="'Liberation Sans', Arial, sans-serif" font-weight="normal" font-size="100" fill="#262626">10</text>
<text transform="matrix(0.2451 0.0000 0.0000 0.2485 1292.5098 97.1485)" font-family="'Liberation Sans', Arial, sans-serif" font-weight="normal" font-size="100" fill="#262626">4</text>
</svg>
</body></html>
